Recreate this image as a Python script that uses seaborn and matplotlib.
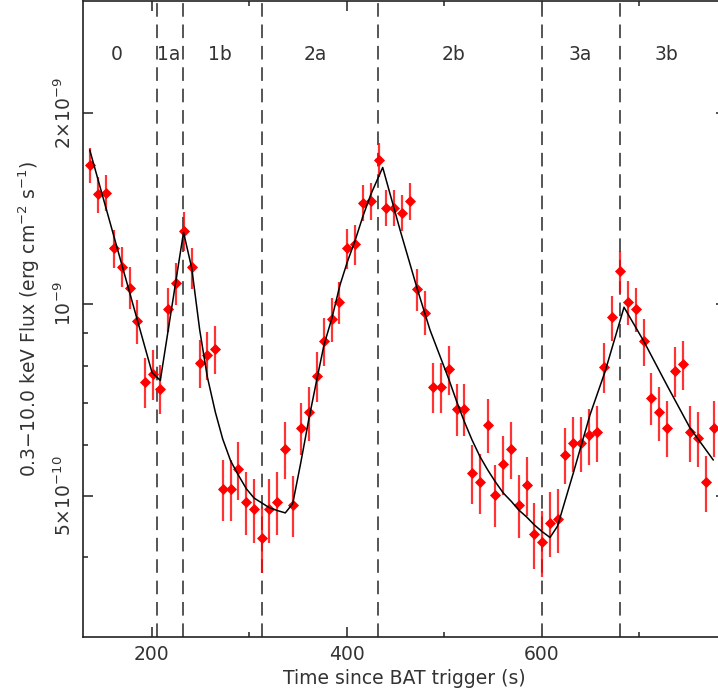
import matplotlib
matplotlib.use("Agg")
import matplotlib.pyplot as plt
import matplotlib.ticker as mticker
import numpy as np
import seaborn as sns

# observed light curve (flux in units of 1e-10 erg cm^-2 s^-1)
time_s = [136.4, 144.6, 152.8, 161.0, 169.2, 177.4, 184.9, 193.1, 201.3, 208.8,
          217.0, 225.2, 232.8, 241.0, 249.2, 257.0, 265.2, 272.8, 281.0, 288.8,
          297.0, 304.9, 313.1, 320.6, 328.8, 337.0, 344.6, 352.8, 361.0, 369.2,
          376.7, 384.9, 392.4, 400.6, 408.8, 416.4, 424.6, 432.8, 440.3, 448.5,
          456.7, 464.9, 472.4, 480.6, 488.2, 496.4, 504.6, 512.8, 520.6, 528.5,
          536.7, 544.6, 552.4, 560.6, 568.8, 576.4, 584.6, 592.4, 600.6, 608.5,
          616.7, 624.2, 632.4, 640.3, 648.5, 656.4, 664.2, 672.1, 680.3, 688.5,
          696.7, 704.6, 712.1, 720.3, 728.2, 736.4, 744.6, 752.1, 760.0, 768.2, 776.4]
flux = [16.55, 14.90, 14.97, 12.24, 11.46, 10.62, 9.41, 7.54, 7.77, 7.37,
        9.83, 10.80, 13.03, 11.42, 8.09, 8.33, 8.51, 5.13, 5.13, 5.50,
        4.89, 4.77, 4.29, 4.77, 4.89, 5.92, 4.84, 6.40, 6.76, 7.72,
        8.76, 9.47, 10.07, 12.24, 12.43, 14.43, 14.53, 16.87, 14.17, 14.17,
        13.93, 14.53, 10.56, 9.70, 7.42, 7.42, 7.90, 6.84, 6.84, 5.43,
        5.25, 6.46, 5.02, 5.61, 5.92, 4.84, 5.20, 4.35, 4.23, 4.53,
        4.59, 5.80, 6.05, 6.05, 6.22, 6.29, 7.97, 9.53, 11.28, 10.08,
        9.83, 8.75, 7.12, 6.76, 6.40, 7.85, 8.04, 6.29, 6.16, 5.25, 6.40]
flux_err = [1.02, 0.97, 0.97, 0.86, 0.83, 0.81, 0.75, 0.68, 0.70, 0.65,
            0.78, 0.82, 0.92, 0.85, 0.70, 0.72, 0.74, 0.56, 0.56, 0.58,
            0.55, 0.55, 0.51, 0.55, 0.55, 0.60, 0.54, 0.60, 0.66, 0.70,
            0.76, 0.75, 0.76, 0.89, 0.90, 0.94, 0.95, 1.04, 0.92, 0.92,
            0.91, 0.95, 0.80, 0.77, 0.67, 0.67, 0.70, 0.64, 0.64, 0.58,
            0.57, 0.63, 0.56, 0.59, 0.61, 0.55, 0.56, 0.52, 0.50, 0.53,
            0.53, 0.59, 0.61, 0.61, 0.63, 0.63, 0.71, 0.78, 0.86, 0.80,
            0.78, 0.74, 0.67, 0.66, 0.64, 0.70, 0.71, 0.63, 0.62, 0.53, 0.64]
bin_half = 3.5

# fitted model curve
model_t = [136.4, 200.3, 208.8, 232.6, 241.0, 249.2, 257.0, 265.2, 272.8, 281.0,
           288.8, 297.0, 304.9, 313.1, 320.6, 328.8, 337.0, 344.6, 352.8, 361.0,
           369.2, 376.7, 384.9, 393.1, 400.6, 408.8, 416.7, 424.9, 436.9, 454.7,
           472.4, 485.4, 504.6, 512.8, 520.6, 528.5, 536.7, 544.6, 552.4, 560.6,
           568.8, 576.4, 584.6, 592.4, 600.6, 608.5, 616.2, 632.4, 649.5, 664.9,
           684.4, 704.6, 728.2, 752.1, 776.0]
model_f = [17.47, 7.81, 7.59, 12.97, 11.40, 9.11, 7.69, 6.77, 6.14, 5.67,
           5.39, 5.13, 4.96, 4.87, 4.79, 4.74, 4.70, 4.86, 5.63, 6.58,
           7.60, 8.63, 9.52, 10.72, 11.65, 12.62, 13.76, 14.90, 16.40, 13.08,
           10.56, 9.11, 7.63, 7.03, 6.54, 6.12, 5.76, 5.49, 5.26, 5.05,
           4.90, 4.75, 4.63, 4.50, 4.39, 4.30, 4.48, 5.43, 6.70, 7.83,
           9.89, 8.75, 7.47, 6.39, 5.69]

# segment boundaries and labels
breaks = [205.1, 232.4, 312.8, 432.4, 600.0, 680.3]
seg_names = ["0", "1a", "1b", "2a", "2b", "3a", "3b"]
seg_pos = [164.5, 217.0, 270.0, 367.5, 509.0, 639.0, 728.0]

sns.set_theme(style="ticks")
plt.rcParams["font.family"] = ["DejaVu Sans"]
plt.rcParams["mathtext.fontset"] = "dejavusans"

txt_color = "#333333"
scale = 1e-10
t = np.array(time_s)
f = np.array(flux) * scale
fe = np.array(flux_err) * scale

fig = plt.figure(figsize=(7.18, 6.93), dpi=100)
ax = fig.add_axes([83 / 718, 56 / 693, 643 / 718, 636.5 / 693])
ax.set_yscale("log")

for b in breaks:
    ax.axvline(b, color="#555555", lw=1.4, ls=(0, (7, 4)), zorder=1)

ax.errorbar(t, f, yerr=fe, xerr=bin_half, fmt="none", ecolor="red",
            elinewidth=1.6, alpha=0.8, zorder=2)
sns.scatterplot(x=t, y=f, marker="D", s=32, color="red", edgecolor="red",
                linewidth=0, ax=ax, zorder=3)
sns.lineplot(x=np.array(model_t), y=np.array(model_f) * scale, color="black",
             lw=1.1, estimator=None, sort=False, ax=ax, zorder=4)

for name, pos in zip(seg_names, seg_pos):
    ax.text(pos, 2.47e-9, name, ha="center", va="center", fontsize=13.5,
            color=txt_color)

ax.set_xlim(129.5, 789)
ax.set_ylim(3e-10, 3e-9)

ax.xaxis.set_major_locator(mticker.FixedLocator([200, 400, 600]))
ax.xaxis.set_minor_locator(mticker.FixedLocator([300, 500, 700]))
ax.yaxis.set_major_locator(mticker.FixedLocator([5e-10, 1e-9, 2e-9]))
ax.yaxis.set_major_formatter(mticker.FixedFormatter(
    [r"$\mathregular{5{\times}10^{-10}}$", r"$\mathregular{10^{-9}}$",
     r"$\mathregular{2{\times}10^{-9}}$"]))
ax.yaxis.set_minor_locator(mticker.FixedLocator([4e-10, 6e-10, 7e-10, 8e-10, 9e-10]))
ax.yaxis.set_minor_formatter(mticker.NullFormatter())

ax.tick_params(which="both", direction="in", top=True, right=True,
               color="#222222", width=1.1, labelsize=13.5, labelcolor=txt_color)
ax.tick_params(which="major", length=7)
ax.tick_params(which="minor", length=3.6)
ax.tick_params(axis="x", pad=6)
ax.tick_params(axis="y", pad=6)
for lab in ax.get_yticklabels():
    lab.set_rotation(90)
    lab.set_va("center")

for sp in ax.spines.values():
    sp.set_linewidth(1.2)
    sp.set_color("#222222")

ax.set_xlabel("Time since BAT trigger (s)", fontsize=13.5, color=txt_color,
              labelpad=3)
ax.set_ylabel(r"0.3$-$10.0 keV Flux (erg cm$^{-2}$ s$^{-1}$)", fontsize=13.5,
              color=txt_color, labelpad=8)

fig.savefig("out.png", dpi=100)
